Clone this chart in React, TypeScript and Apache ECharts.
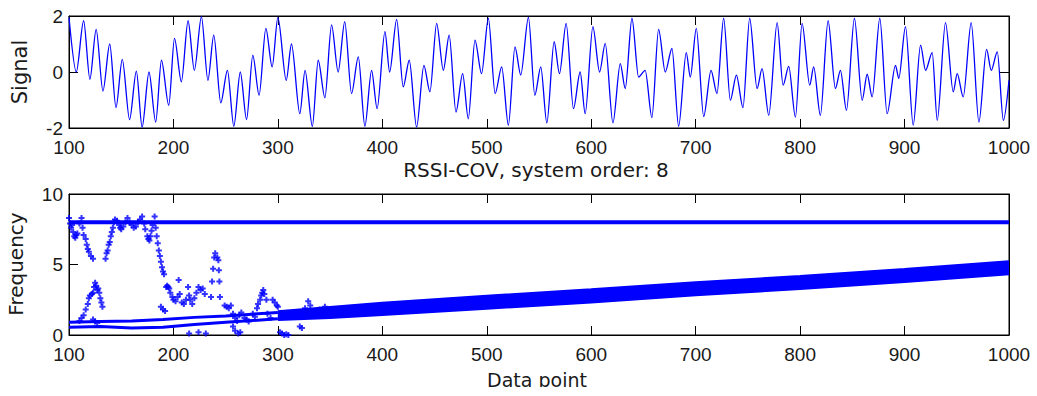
import React, { useEffect, useRef } from "react";
import * as echarts from "echarts";

// ---- Top panel: signal (local extrema) ----
const signalX = [
  100, 107, 114, 120, 126, 132.5, 139, 145, 151, 158, 164.5, 170, 176.6, 183, 188.5, 195.5, 201, 207.6, 214, 220,
  226.8, 233, 238.6, 245.3, 251.7, 257.8, 264, 270, 276, 282, 288.5, 294.5, 300, 308, 313, 321,
  326, 333, 338.6, 345, 351.4, 357.7, 364, 370.5, 377, 383.3, 389.7, 395, 402.5, 407, 413.7, 420, 425.8, 432.8,
  439.8, 445.6, 452, 458.4, 464, 470.5, 476.9, 482.3, 488.7, 495, 501.5, 508, 514.3, 520.7, 527, 532.5, 539.9,
  546, 551.7, 557.5, 564.5, 569.6, 576, 583, 589.4, 594.2, 601.6, 608, 613.4, 620.8, 627.8, 632.6, 639, 645.3,
  651.7, 658.1, 664.5, 670.9, 677.3, 683.7, 691, 694.9, 700.6, 707.7, 714.7, 720.4, 726.8, 733.2, 739, 745.3,
  751.7, 758.8, 763.6, 770, 778, 783.7, 789.1, 795.5, 801.9, 809.2, 813, 819.4, 826.8, 833.8, 838.6, 844.4,
  852, 859.4, 864.2, 869, 876.3, 883.3, 891.3, 894.5, 900.9, 908.3, 915.3, 920.1, 926.5, 931.3, 939.2, 946.6,
  950.4, 956.2, 963.8, 971.2, 978.5, 983, 988.8, 994.6, 1000,
];
const signalY = [
  1.95, 0.0, 1.83, -0.26, 1.52, -0.68, 1.0, -1.27, 0.45, -1.7, 0.03, -1.97, 0.0, -1.79, 0.42, -1.19, 1.2, -0.35, 1.83, 0.06,
  1.98, -0.3, 1.32, -1.1, 0.06, -1.94, 0.0, -1.7, 0.6, -0.83, 1.56, 0.18, 1.95, -0.3, 1.0, -1.49,
  0.06, -1.94, 0.42, -0.92, 1.68, 0.0, 1.8, -0.77, 0.54, -1.94, 0.06, -1.31, 1.44, 0.0, 1.88, -0.53, 0.42, -1.97,
  0.24, -0.71, 1.74, 0.06, 1.32, -1.43, -0.06, -1.67, 1.14, -0.06, 1.92, -0.77, 0.18, -1.9, 0.9, -0.11, 1.95,
  -0.83, 0.18, -1.82, 1.08, -0.06, 1.74, -1.31, 0.0, -1.49, 1.62, 0.0, 1.02, -1.82, 0.3, -0.59, 1.92, -0.18,
  0.06, -1.63, 1.52, 0.0, 0.84, -1.94, 0.69, -0.18, 1.56, -1.59, 0.06, -0.77, 1.92, -1.01, -0.11, -1.27,
  1.92, -0.59, 0.12, -1.55, 1.76, -0.47, 0.2, -1.61, 1.74, -0.47, 0.18, -1.55, 1.83, -0.59, 0.06, -1.37,
  1.92, -1.01, -0.08, -0.89, 1.92, -1.49, 0.24, -0.23, 1.62, -1.9, 0.96, 0.06, 0.69, -1.73, 1.76, -0.71,
  -0.06, -0.89, 1.76, -1.79, 0.81, 0.06, 0.72, -1.73, -0.3,
];

// ---- Bottom panel: frequency estimates ----
const constX = [100, 1000];
const constY = [8, 8];

const earlyX = [
  100, 101, 102, 103, 104, 105, 106, 107, 108, 110, 112, 113, 114, 116, 117, 118, 119, 121, 123, 135, 136, 137, 138,
  139, 140, 141, 142, 143, 144, 146, 148, 149, 150, 152, 154, 156, 158, 160, 162, 164, 166, 168, 170, 172, 173, 175,
  176, 177, 178, 179, 180, 182, 183, 184, 185, 186, 187, 188, 189, 190, 191,
];
const earlyY = [
  8.3, 7.9, 7.6, 7.8, 7.3, 7.0, 6.9, 7.1, 7.2, 7.9, 8.3, 7.6, 7.1, 6.8, 6.4, 6.1, 5.9, 5.6, 5.4, 5.4, 5.8, 6.0, 6.4,
  6.6, 7.0, 7.3, 7.6, 8.0, 8.2, 8.1, 7.8, 7.6, 7.5, 7.7, 8.0, 8.3, 8.0, 7.8, 7.6, 7.7, 8.0, 8.2, 8.4, 7.9, 7.5, 7.0,
  6.8, 6.7, 7.0, 7.4, 7.8, 8.4, 7.6, 7.0, 6.5, 6.0, 5.6, 5.2, 4.8, 4.5, 4.3,
];

const spikeX = [110, 112, 114, 116, 118, 119, 120, 122, 123, 124, 125, 126, 127, 128, 129, 130, 131, 132, 123, 125, 127];
const spikeY = [1.0, 1.2, 1.4, 1.8, 2.2, 2.6, 2.8, 2.9, 3.0, 3.4, 3.7, 3.5, 3.2, 3.3, 3.0, 2.6, 2.3, 2.0, 1.1, 0.95, 0.85];

const cloudX = [
  188, 190, 192, 193, 194, 195, 196, 197, 199, 200, 202, 204, 205, 206, 208, 210, 212, 214, 215, 216, 218, 220, 222,
  224, 226, 228, 230, 215, 224, 231, 236, 237, 238, 239, 240, 242, 243, 243.5, 244, 244.5, 249, 251, 253, 255, 257,
  259, 261, 263, 265, 268, 270, 272, 257, 259, 262, 264, 276, 278, 280, 281, 283, 284, 285, 286, 287, 289, 290, 293,
  295, 297, 299, 300, 302, 304, 306, 308, 310, 315, 318, 321, 323, 326, 329, 331, 333, 336, 340, 345, 350,
];
const cloudY = [
  2.0, 1.8, 1.7, 3.4, 3.5, 3.4, 3.3, 3.0, 2.7, 2.5, 2.4, 2.7, 3.9, 2.9, 2.3, 2.2, 2.5, 3.4, 2.8, 2.5, 2.2, 2.6, 3.0,
  3.4, 3.2, 3.3, 2.9, 0.1, 0.2, 0.1, 2.7, 3.8, 4.7, 5.5, 5.8, 5.5, 5.3, 4.6, 3.8, 2.7, 2.1, 2.0, 1.9, 2.1, 1.5,
  1.2, 1.0, 1.4, 1.6, 1.2, 1.1, 0.95, 0.6, 0.3, 0.1, 0.2, 1.5, 1.3, 1.9, 2.2, 2.5, 2.8, 3.0, 3.2, 2.9, 2.5, 1.5, 1.2,
  2.5, 2.3, 2.1, 2.0, 0.2, 0.1, 0.0, 0.05, 0.0, 1.6, 1.5, 0.6, 0.5, 1.9, 2.4, 2.1, 1.7, 1.5, 1.8, 2.0, 1.7,
];

const earlyLineX = [100, 130, 160, 190, 220, 250, 300];
const lowLineY = [0.55, 0.6, 0.5, 0.55, 0.75, 0.9, 1.15];
const upLineY = [0.9, 0.95, 1.0, 1.1, 1.25, 1.35, 1.6];

const bandX = [300, 350, 400, 500, 600, 700, 800, 900, 1000];
const band1Y = [1.15, 1.3, 1.5, 1.95, 2.4, 2.9, 3.35, 3.85, 4.4];
const band2Y = [1.3, 1.5, 1.75, 2.2, 2.65, 3.15, 3.6, 4.1, 4.65];
const band3Y = [1.45, 1.7, 1.95, 2.45, 2.9, 3.4, 3.85, 4.35, 4.9];
const band4Y = [1.6, 1.9, 2.2, 2.7, 3.15, 3.65, 4.1, 4.6, 5.15];

const xTicks = [100, 200, 300, 400, 500, 600, 700, 800, 900, 1000];

const BLUE = "#0000ff";
const TXT = "#1a1a1a";
const PLUS = "path://M2,0L4,0L4,2L6,2L6,4L4,4L4,6L2,6L2,4L0,4L0,2L2,2Z";

const zip = (xs: number[], ys: number[]) => xs.map((x, i) => [x, ys[i]]);

function frameX(gridIndex: number, position: "bottom" | "top", labels: boolean) {
  return {
    type: "value",
    gridIndex,
    position,
    min: xTicks[0],
    max: xTicks[xTicks.length - 1],
    interval: 100,
    axisLine: { show: true, onZero: false, lineStyle: { color: "#000", width: 1 } },
    axisTick: { show: true, inside: true, length: 9, lineStyle: { color: "#000" } },
    axisLabel: {
      show: labels,
      margin: 12,
      fontSize: 19,
      lineHeight: 14,
      fontFamily: "Liberation Sans",
      color: TXT,
      showMinLabel: true,
      showMaxLabel: true,
      formatter: (v: number) => String(v),
    },
    splitLine: { show: false },
  };
}

function frameY(gridIndex: number, position: "left" | "right", labels: boolean, min: number, max: number, interval: number) {
  return {
    type: "value",
    gridIndex,
    position,
    min,
    max,
    interval,
    axisLine: { show: true, onZero: false, lineStyle: { color: "#000", width: 1 } },
    axisTick: { show: true, inside: true, length: 9, lineStyle: { color: "#000" } },
    axisLabel: {
      show: labels,
      margin: 6,
      fontSize: 19,
      lineHeight: 14,
      padding: [0, 0, 6, 0],
      fontFamily: "Liberation Sans",
      color: TXT,
      showMinLabel: true,
      showMaxLabel: true,
      formatter: (v: number) => String(v),
    },
    splitLine: { show: false },
  };
}

export default function App() {
  const ref = useRef<HTMLDivElement>(null);
  useEffect(() => {
    if (!ref.current) return;
    const chart = echarts.init(ref.current, null, { renderer: "svg" });
    const option: any = {
      animation: false,
      backgroundColor: "#fff",
      grid: [
        { left: 69, right: 28, top: 16, height: 112, show: true, borderColor: "#000", borderWidth: 1 },
        { left: 69, right: 28, top: 194, height: 141, show: true, borderColor: "#000", borderWidth: 1 },
      ],
      xAxis: [frameX(0, "bottom", true), frameX(0, "top", false), frameX(1, "bottom", true), frameX(1, "top", false)],
      yAxis: [
        frameY(0, "left", true, -2, 2, 2),
        frameY(0, "right", false, -2, 2, 2),
        frameY(1, "left", true, 0, 10, 5),
        frameY(1, "right", false, 0, 10, 5),
      ],
      series: [
        {
          type: "line",
          xAxisIndex: 0,
          yAxisIndex: 0,
          data: zip(signalX, signalY),
          showSymbol: false,
          smooth: 0.3,
          smoothMonotone: "x",
          lineStyle: { color: BLUE, width: 1.3 },
          clip: true,
        },
        {
          type: "line",
          xAxisIndex: 2,
          yAxisIndex: 2,
          data: zip(constX, constY),
          showSymbol: false,
          lineStyle: { color: BLUE, width: 4 },
        },
        ...[lowLineY, upLineY].map((ys) => ({
          type: "line",
          xAxisIndex: 2,
          yAxisIndex: 2,
          data: zip(earlyLineX, ys),
          showSymbol: false,
          lineStyle: { color: BLUE, width: 3 },
        })),
        ...[band1Y, band2Y, band3Y, band4Y].map((ys) => ({
          type: "line",
          xAxisIndex: 2,
          yAxisIndex: 2,
          data: zip(bandX, ys),
          showSymbol: false,
          lineStyle: { color: BLUE, width: 4.5 },
        })),
        ...[
          [earlyX, earlyY],
          [spikeX, spikeY],
          [cloudX, cloudY],
        ].map(([xs, ys]) => ({
          type: "scatter",
          xAxisIndex: 2,
          yAxisIndex: 2,
          data: zip(xs, ys),
          symbol: PLUS,
          symbolSize: 6,
          itemStyle: { color: BLUE },
          clip: true,
        })),
      ],
      graphic: [
        {
          type: "text",
          x: 20,
          y: 72,
          rotation: Math.PI / 2,
          z: 50,
          style: { text: "Signal", fill: TXT, font: "21px 'DejaVu Sans'", align: "center", verticalAlign: "middle" },
        },
        {
          type: "text",
          x: 16,
          y: 264,
          rotation: Math.PI / 2,
          z: 50,
          style: { text: "Frequency", fill: TXT, font: "20px 'DejaVu Sans'", align: "center", verticalAlign: "middle" },
        },
        {
          type: "text",
          x: 536,
          y: 170,
          z: 50,
          style: {
            text: "RSSI-COV, system order: 8",
            fill: TXT,
            font: "20px 'DejaVu Sans'",
            align: "center",
            verticalAlign: "middle",
          },
        },
        {
          type: "text",
          x: 537,
          y: 380,
          z: 50,
          style: { text: "Data point", fill: TXT, font: "19px 'DejaVu Sans'", align: "center", verticalAlign: "middle" },
        },
        {
          type: "rect",
          z: 60,
          shape: { x: 0, y: 387, width: 1037, height: 9 },
          style: { fill: "#fff" },
        },
      ],
    };
    chart.setOption(option);
    return () => chart.dispose();
  }, []);
  return (
    <div
      ref={ref}
      style={{ position: "fixed", left: 0, top: 0, width: 1037, height: 396, background: "#fff" }}
    />
  );
}
